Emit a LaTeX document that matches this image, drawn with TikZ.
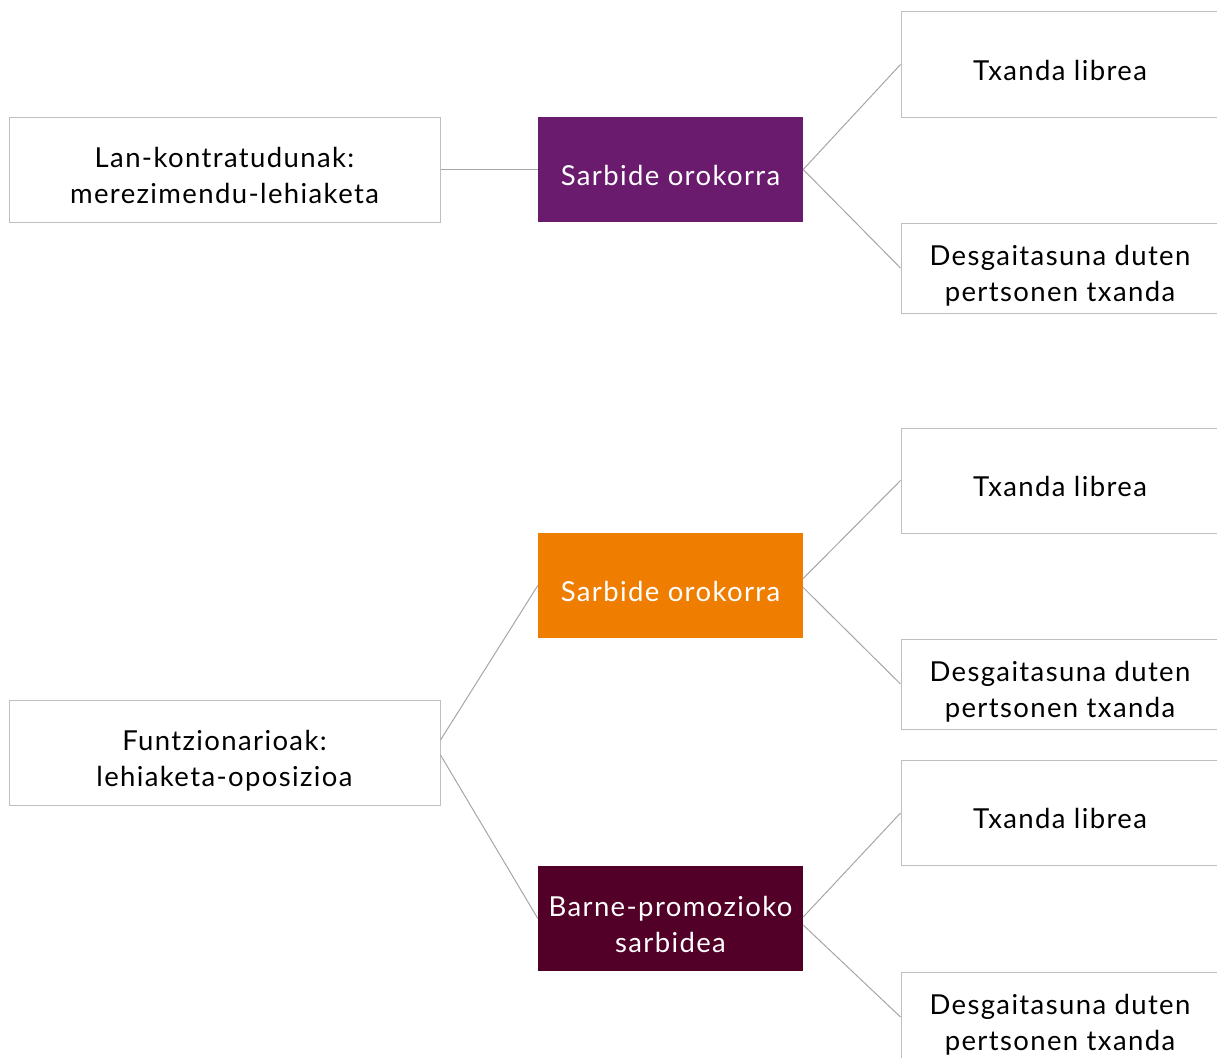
\documentclass[tikz,border=0pt]{standalone}
\usepackage{fontspec}
\setmainfont{Lato}[LetterSpace=5]
\usetikzlibrary{positioning,calc}

\definecolor{sbpurple}{HTML}{6A1B6E}
\definecolor{sborange}{HTML}{EF7D00}
\definecolor{sbmaroon}{HTML}{520027}
\definecolor{boxgray}{HTML}{BFBFBF}
\definecolor{linkgray}{HTML}{A6A6A6}

\tikzset{
  txt/.style={align=center, inner sep=0pt, font=\fontsize{27.5}{36}\selectfont,
    execute at begin node={\rule{0pt}{39pt}},
    execute at end node={\rule[-8pt]{0pt}{8pt}}},
  twoline/.style={execute at begin node={\rule{0pt}{75pt}}},
  whitebox/.style={txt, draw=boxgray, line width=1pt, fill=white, text=black},
  colbox/.style={txt, fill=#1, text=white, minimum width=265pt, minimum height=105pt},
  rootbox/.style={whitebox, twoline, minimum width=431pt, minimum height=105pt},
  leafbox/.style={whitebox, minimum width=318pt, minimum height=#1},
  leafbox/.default=105pt,
  link/.style={draw=linkgray, line width=1pt}
}

\begin{document}
\begin{tikzpicture}[x=1pt,y=-1pt]
  \useasboundingbox (0,0) rectangle (1217,1057);
  % Top group
  \node[rootbox] (lk) at (224.5,169.5) {Lan-kontratudunak:\\merezimendu-lehiaketa};
  \node[colbox=sbpurple] (so1) at (670.5,169.5) {Sarbide orokorra};
  \node[leafbox] (t1) at (1060,64.5) {Txanda librea};
  \node[leafbox=90pt, twoline] (d1) at (1060,268) {Desgaitasuna duten\\pertsonen txanda};
  % Bottom group
  \node[rootbox] (fz) at (224.5,752.5) {Funtzionarioak:\\lehiaketa-oposizioa};
  \node[colbox=sborange] (so2) at (670.5,585.5) {Sarbide orokorra};
  \node[colbox=sbmaroon, twoline] (bp) at (670.5,918.5) {Barne-promozioko\\sarbidea};
  \node[leafbox] (t2) at (1060,480.5) {Txanda librea};
  \node[leafbox=90pt, twoline] (d2) at (1060,684) {Desgaitasuna duten\\pertsonen txanda};
  \node[leafbox] (t3) at (1060,813) {Txanda librea};
  \node[leafbox=90pt, twoline] (d3) at (1060,1017) {Desgaitasuna duten\\pertsonen txanda};
  % Links
  \draw[link] (lk.east) -- (so1.west);
  \draw[link] (so1.east) -- (t1.west);
  \draw[link] (so1.east) -- (d1.west);
  \draw[link] ([yshift=12.5pt]fz.east) -- (so2.west);
  \draw[link] ([yshift=-2.5pt]fz.east) -- (bp.west);
  \draw[link] ([yshift=7pt]so2.east) -- (t2.west);
  \draw[link] ([yshift=-2pt]so2.east) -- (d2.west);
  \draw[link] ([yshift=1.5pt]bp.east) -- (t3.west);
  \draw[link] ([yshift=-6.5pt]bp.east) -- (d3.west);
\end{tikzpicture}
\end{document}
